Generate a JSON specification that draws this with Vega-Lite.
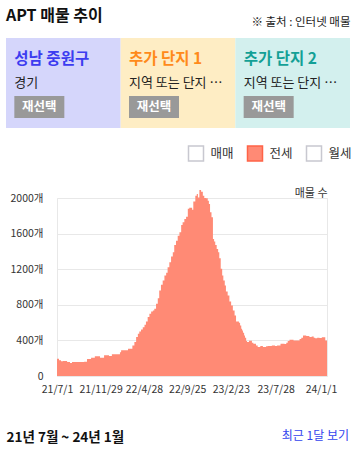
{
  "$schema": "https://vega.github.io/schema/vega-lite/v6.json",
  "background": "white",
  "padding": {"left": 5, "right": 3, "top": 8, "bottom": 2},
  "config": {"font": "Noto Sans CJK KR"},
  "columns": 1,
  "spacing": 16,
  "resolve": {"scale": {"fill": "independent", "color": "independent"}, "legend": {"fill": "independent", "color": "independent"}},
  "concat": [
    {
      "width": 293,
      "height": 90,
      "view": {"stroke": null},
      "title": {"text": "APT 매물 추이", "anchor": "start", "fontSize": 16, "fontWeight": "bold", "color": "#111111", "offset": -8},
      "data": {"values": [
        {"panel": "성남 중원구", "sub": "경기"},
        {"panel": "추가 단지 1", "sub": "지역 또는 단지 …"},
        {"panel": "추가 단지 2", "sub": "지역 또는 단지 …"}
      ]},
      "encoding": {
        "x": {"field": "panel", "type": "nominal", "sort": null,
          "scale": {"paddingInner": 0, "paddingOuter": 0, "range": [-51, 293]},
          "axis": {"orient": "top", "labels": false, "ticks": false, "domain": false,
            "title": "※ 출처 : 인터넷 매물", "titleX": 293, "titleY": -16, "titleAlign": "right",
            "titleBaseline": "middle", "titleFontSize": 11.5, "titleFontWeight": "normal", "titleColor": "#222222"}}
      },
      "layer": [
        {"mark": {"type": "rect"},
         "encoding": {"fill": {"field": "panel", "type": "nominal", "sort": null,
           "scale": {"domain": ["성남 중원구", "추가 단지 1", "추가 단지 2"], "range": ["#d5d6fb", "#feedc4", "#d3f0ee"]}, "legend": null}}},
        {"mark": {"type": "text", "align": "left", "baseline": "middle", "dx": -49, "dy": -24, "fontSize": 15.5, "fontWeight": "bold"},
         "encoding": {"text": {"field": "panel"},
           "color": {"field": "panel", "type": "nominal", "sort": null,
             "scale": {"domain": ["성남 중원구", "추가 단지 1", "추가 단지 2"], "range": ["#3c3cf0", "#ff8a1a", "#13a096"]}, "legend": null}}},
        {"mark": {"type": "text", "align": "left", "baseline": "middle", "dx": -49, "dy": 0, "fontSize": 13, "color": "#222222"},
         "encoding": {"text": {"field": "sub"}}},
        {"mark": {"type": "point", "shape": "M-1,-0.44L1,-0.44L1,0.44L-1,0.44Z", "size": 2500, "filled": true, "color": "#999999", "opacity": 1, "xOffset": -24, "yOffset": 24},
         "encoding": {}},
        {"mark": {"type": "text", "align": "center", "baseline": "middle", "dx": -24, "dy": 24, "fontSize": 12.5, "fontWeight": "bold", "color": "#ffffff"},
         "encoding": {"text": {"value": "재선택"}}}
      ]
    },
    {
      "width": 270,
      "height": 178,
      "view": {"stroke": "#e8e8e8"},
      "title": {"text": "최근 1달 보기", "orient": "bottom", "anchor": "end", "frame": "group", "dx": 22, "offset": -13, "fontSize": 12, "fontWeight": "normal", "color": "#3344ee"},
      "data": {"values": [
        {"date": "2021-07-01", "count": 195},
        {"date": "2021-07-08", "count": 176},
        {"date": "2021-07-15", "count": 165},
        {"date": "2021-07-22", "count": 168},
        {"date": "2021-08-05", "count": 157},
        {"date": "2021-08-15", "count": 146},
        {"date": "2021-08-22", "count": 157},
        {"date": "2021-10-03", "count": 160},
        {"date": "2021-10-13", "count": 191},
        {"date": "2021-10-27", "count": 206},
        {"date": "2021-11-09", "count": 221},
        {"date": "2021-11-27", "count": 206},
        {"date": "2021-12-11", "count": 232},
        {"date": "2021-12-28", "count": 226},
        {"date": "2022-01-07", "count": 243},
        {"date": "2022-02-04", "count": 266},
        {"date": "2022-02-08", "count": 288},
        {"date": "2022-03-04", "count": 305},
        {"date": "2022-03-19", "count": 344},
        {"date": "2022-03-26", "count": 381},
        {"date": "2022-04-01", "count": 437},
        {"date": "2022-04-07", "count": 475},
        {"date": "2022-04-12", "count": 501},
        {"date": "2022-04-18", "count": 523},
        {"date": "2022-04-24", "count": 549},
        {"date": "2022-04-30", "count": 576},
        {"date": "2022-05-05", "count": 613},
        {"date": "2022-05-11", "count": 662},
        {"date": "2022-05-17", "count": 699},
        {"date": "2022-05-23", "count": 725},
        {"date": "2022-05-29", "count": 737},
        {"date": "2022-06-03", "count": 755},
        {"date": "2022-06-09", "count": 812},
        {"date": "2022-06-15", "count": 874},
        {"date": "2022-06-20", "count": 961},
        {"date": "2022-06-26", "count": 1025},
        {"date": "2022-07-02", "count": 1073},
        {"date": "2022-07-08", "count": 1129},
        {"date": "2022-07-14", "count": 1159},
        {"date": "2022-07-19", "count": 1222},
        {"date": "2022-07-25", "count": 1278},
        {"date": "2022-07-31", "count": 1342},
        {"date": "2022-08-06", "count": 1390},
        {"date": "2022-08-11", "count": 1473},
        {"date": "2022-08-17", "count": 1521},
        {"date": "2022-08-23", "count": 1577},
        {"date": "2022-08-29", "count": 1614},
        {"date": "2022-09-04", "count": 1697},
        {"date": "2022-09-09", "count": 1727},
        {"date": "2022-09-15", "count": 1764},
        {"date": "2022-09-21", "count": 1790},
        {"date": "2022-09-27", "count": 1878},
        {"date": "2022-10-02", "count": 1891},
        {"date": "2022-10-12", "count": 1869},
        {"date": "2022-10-16", "count": 1962},
        {"date": "2022-10-23", "count": 2026},
        {"date": "2022-10-28", "count": 2044},
        {"date": "2022-11-01", "count": 2007},
        {"date": "2022-11-06", "count": 2089},
        {"date": "2022-11-12", "count": 2071},
        {"date": "2022-11-18", "count": 2026},
        {"date": "2022-11-23", "count": 2000},
        {"date": "2022-11-29", "count": 1996},
        {"date": "2022-12-05", "count": 1970},
        {"date": "2022-12-09", "count": 1932},
        {"date": "2022-12-13", "count": 1839},
        {"date": "2022-12-18", "count": 1783},
        {"date": "2022-12-23", "count": 1540},
        {"date": "2022-12-27", "count": 1510},
        {"date": "2022-12-31", "count": 1473},
        {"date": "2023-01-05", "count": 1428},
        {"date": "2023-01-10", "count": 1390},
        {"date": "2023-01-14", "count": 1323},
        {"date": "2023-01-19", "count": 1204},
        {"date": "2023-01-24", "count": 1129},
        {"date": "2023-01-28", "count": 1073},
        {"date": "2023-02-02", "count": 1017},
        {"date": "2023-02-06", "count": 950},
        {"date": "2023-02-12", "count": 905},
        {"date": "2023-02-18", "count": 837},
        {"date": "2023-02-24", "count": 793},
        {"date": "2023-03-02", "count": 737},
        {"date": "2023-03-08", "count": 680},
        {"date": "2023-03-13", "count": 613},
        {"date": "2023-03-23", "count": 598},
        {"date": "2023-03-27", "count": 568},
        {"date": "2023-03-31", "count": 531},
        {"date": "2023-04-03", "count": 512},
        {"date": "2023-04-06", "count": 486},
        {"date": "2023-04-10", "count": 456},
        {"date": "2023-04-13", "count": 430},
        {"date": "2023-04-17", "count": 393},
        {"date": "2023-04-20", "count": 381},
        {"date": "2023-04-27", "count": 396},
        {"date": "2023-05-07", "count": 374},
        {"date": "2023-05-12", "count": 363},
        {"date": "2023-05-21", "count": 344},
        {"date": "2023-05-27", "count": 325},
        {"date": "2023-06-05", "count": 337},
        {"date": "2023-06-14", "count": 325},
        {"date": "2023-06-25", "count": 333},
        {"date": "2023-07-01", "count": 337},
        {"date": "2023-07-15", "count": 344},
        {"date": "2023-07-26", "count": 337},
        {"date": "2023-08-02", "count": 344},
        {"date": "2023-08-14", "count": 363},
        {"date": "2023-08-28", "count": 359},
        {"date": "2023-09-03", "count": 374},
        {"date": "2023-09-08", "count": 393},
        {"date": "2023-09-14", "count": 408},
        {"date": "2023-09-28", "count": 400},
        {"date": "2023-10-19", "count": 415},
        {"date": "2023-10-25", "count": 430},
        {"date": "2023-10-31", "count": 456},
        {"date": "2023-11-11", "count": 449},
        {"date": "2023-11-22", "count": 438},
        {"date": "2023-11-30", "count": 445},
        {"date": "2023-12-07", "count": 430},
        {"date": "2023-12-12", "count": 423},
        {"date": "2023-12-19", "count": 430},
        {"date": "2023-12-27", "count": 426},
        {"date": "2024-01-04", "count": 434},
        {"date": "2024-01-16", "count": 400},
        {"date": "2024-01-22", "count": 400}
      ]},
      "mark": {"type": "area", "interpolate": "step-after", "clip": false},
      "encoding": {
        "x": {"field": "date", "type": "temporal",
          "scale": {"type": "utc", "domain": [{"year": 2021, "month": 7, "date": 1, "utc": true}, {"year": 2024, "month": 1, "date": 22, "utc": true}]},
          "axis": {
            "values": [
              {"year": 2021, "month": 7, "date": 1, "utc": true},
              {"year": 2021, "month": 11, "date": 29, "utc": true},
              {"year": 2022, "month": 4, "date": 28, "utc": true},
              {"year": 2022, "month": 9, "date": 25, "utc": true},
              {"year": 2023, "month": 2, "date": 23, "utc": true},
              {"year": 2023, "month": 7, "date": 28, "utc": true},
              {"year": 2024, "month": 1, "date": 1, "utc": true}
            ],
            "format": "%y/%-m/%-d", "labelFlush": false, "labelOverlap": false, "grid": false, "ticks": false, "domain": false,
            "labelPadding": 8, "labelFontSize": 10.5, "labelColor": "#333333",
            "title": "21년 7월 ~ 24년 1월", "titleX": -51, "titleY": 61, "titleAlign": "left", "titleBaseline": "middle",
            "titleFontSize": 13.5, "titleFontWeight": "bold", "titleColor": "#111111"}},
        "y": {"field": "count", "type": "quantitative", "stack": null,
          "scale": {"domain": [0, 2000], "nice": false},
          "axis": {"values": [0, 400, 800, 1200, 1600, 2000],
            "labelExpr": "datum.value == 0 ? '0' : datum.value + '개'",
            "ticks": false, "domain": false, "gridColor": "#e8e8e8", "labelPadding": 14, "labelFontSize": 10.5, "labelColor": "#333333",
            "title": "매물 수", "titleAngle": 0, "titleX": 270, "titleY": -5, "titleAlign": "right", "titleBaseline": "middle",
            "titleFontSize": 11, "titleFontWeight": "normal", "titleColor": "#333333"}},
        "fill": {"datum": "전세", "type": "nominal",
          "scale": {"domain": ["매매", "전세", "월세"], "range": ["#ffffff", "#ff8a75", "#ffffff"]},
          "legend": {"orient": "none", "legendX": 130.5, "legendY": -53, "direction": "horizontal", "title": null,
            "symbolType": "square", "symbolSize": 225, "symbolStrokeWidth": 1.5, "symbolOpacity": 1,
            "labelFontSize": 12.5, "labelColor": "#333333", "labelOffset": 6, "columnPadding": 10,
            "encode": {"symbols": {"update": {
              "fill": {"signal": "datum.value === '전세' ? '#ff6347' : '#ffffff'"},
              "stroke": {"signal": "datum.value === '전세' ? '#ff6347' : '#c8c8d0'"},
              "opacity": {"value": 1}}}}}}
      }
    }
  ]
}
